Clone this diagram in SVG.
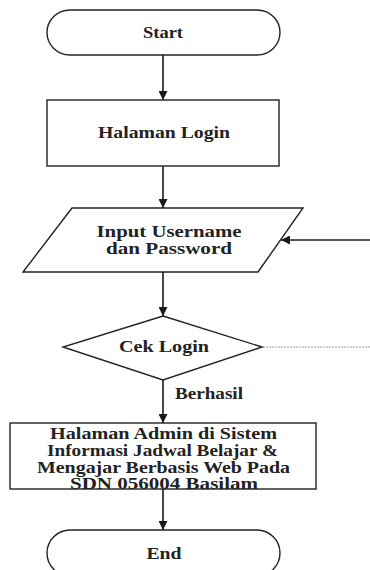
<svg xmlns="http://www.w3.org/2000/svg" width="370" height="570" viewBox="0 0 370 570">
<defs>
<marker id="ah" viewBox="0 0 10 10" refX="10" refY="5" markerWidth="9" markerHeight="9" markerUnits="userSpaceOnUse" orient="auto">
<path d="M0,0 L10,5 L0,10 z" fill="#1a1a1a"/>
</marker>
<style>
.shape{fill:#fff;stroke:#222;stroke-width:1.4}
.t{font-family:"Liberation Serif","Times New Roman",serif;font-size:16px;font-weight:bold;fill:#222;text-anchor:middle}
.c{stroke:#1a1a1a;stroke-width:1.6;fill:none}
.d{stroke:#999;stroke-width:1.2;stroke-dasharray:2 1;fill:none}
</style>
</defs>
<rect width="370" height="570" fill="#fff"/>
<g id="connectors">
<line class="c" x1="163" y1="55" x2="163" y2="100" marker-end="url(#ah)"/>
<line class="c" x1="163" y1="166" x2="163" y2="208" marker-end="url(#ah)"/>
<line class="c" x1="163" y1="272" x2="163" y2="316" marker-end="url(#ah)"/>
<line class="c" x1="163" y1="380" x2="163" y2="423" marker-end="url(#ah)"/>
<line class="c" x1="163" y1="489" x2="163" y2="530" marker-end="url(#ah)"/>
<line class="c" x1="370" y1="240" x2="281" y2="240" marker-end="url(#ah)"/>
<line class="d" x1="263" y1="347" x2="370" y2="347"/>
<text class="t" x="209" y="399" textLength="68" lengthAdjust="spacingAndGlyphs">Berhasil</text>
</g>
<g id="start">
<rect class="shape" x="47" y="10" width="233" height="45" rx="23" ry="22.5"/>
<text class="t" x="163" y="38" textLength="40" lengthAdjust="spacingAndGlyphs">Start</text>
</g>
<g id="login">
<rect class="shape" x="47" y="100" width="232" height="66"/>
<text class="t" x="164" y="138" textLength="132" lengthAdjust="spacingAndGlyphs">Halaman Login</text>
</g>
<g id="input">
<polygon class="shape" points="72,208 303,208 258,272 23,272"/>
<text class="t" x="169" y="237" textLength="145" lengthAdjust="spacingAndGlyphs">Input Username</text>
<text class="t" x="169" y="254" textLength="126" lengthAdjust="spacingAndGlyphs">dan Password</text>
</g>
<g id="cek">
<polygon class="shape" points="163,316 262,347 163,380 63,347"/>
<text class="t" x="164" y="352" textLength="90" lengthAdjust="spacingAndGlyphs">Cek Login</text>
</g>
<g id="admin">
<rect class="shape" x="10" y="423" width="306" height="66"/>
<text class="t" x="163.5" y="439" textLength="227" lengthAdjust="spacingAndGlyphs">Halaman Admin di Sistem</text>
<text class="t" x="162.5" y="456" textLength="231" lengthAdjust="spacingAndGlyphs">Informasi Jadwal Belajar &amp;</text>
<text class="t" x="163.5" y="473" textLength="253" lengthAdjust="spacingAndGlyphs">Mengajar Berbasis Web Pada</text>
<text class="t" x="164" y="489" textLength="188" lengthAdjust="spacingAndGlyphs">SDN 056004 Basilam</text>
</g>
<g id="end">
<rect class="shape" x="47" y="530" width="233" height="46" rx="23" ry="23"/>
<text class="t" x="164" y="559" textLength="35" lengthAdjust="spacingAndGlyphs">End</text>
</g>
</svg>
